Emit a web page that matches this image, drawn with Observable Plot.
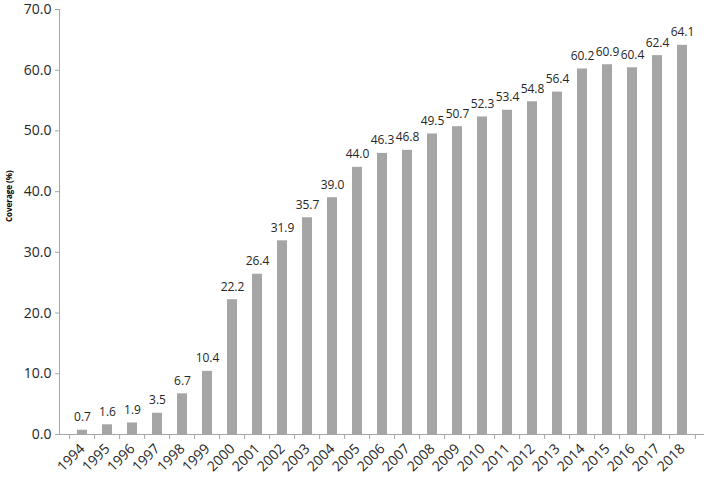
<!DOCTYPE html>
<html>
<head>
<meta charset="utf-8">
<script src="https://cdn.jsdelivr.net/npm/d3@7"></script>
<script src="https://cdn.jsdelivr.net/npm/@observablehq/plot@0.6"></script>
<style>
  html, body { margin: 0; padding: 0; background: #fff; }
  #chart { width: 709px; height: 478px; }
  #chart svg { overflow: visible; }
</style>
</head>
<body>
<div id="chart"></div>
<script>
const years = ["1994","1995","1996","1997","1998","1999","2000","2001","2002","2003","2004","2005","2006","2007","2008","2009","2010","2011","2012","2013","2014","2015","2016","2017","2018"];
const coverage = [0.7,1.6,1.9,3.5,6.7,10.4,22.2,26.4,31.9,35.7,39.0,44.0,46.3,46.8,49.5,50.7,52.3,53.4,54.8,56.4,60.2,60.9,60.4,62.4,64.1];
const yTicks = [0,10,20,30,40,50,60,70];
const yTitle = "Coverage (%)";

const data = years.map((y, i) => ({year: y, value: coverage[i]}));
const W = 709, H = 478, mL = 59, mR = 5;
const step = (W - mL - mR) / years.length;

const chart = Plot.plot({
  width: W,
  height: H,
  marginLeft: mL,
  marginRight: mR,
  marginTop: 9,
  marginBottom: 44,
  style: {fontFamily: "'Open Sans', sans-serif", fontSize: "12px", color: "#262626", background: "#fff", overflow: "visible"},
  x: {type: "band", domain: years, padding: 0.6, label: null},
  y: {domain: [0, 70], label: null},
  marks: [
    Plot.barY(data, {x: "year", y: "value", fill: "#a5a5a5"}),
    Plot.text(data, {x: "year", y: "value", text: d => d.value.toFixed(1), dy: -9, lineAnchor: "bottom", fill: "#262626", fontSize: 12}),
    Plot.ruleY([0], {stroke: "#a6a6a6"}),
    Plot.ruleX(years, {x: d => d, y1: 0, y2: 0, dx: -step / 2, insetBottom: -5, stroke: "#a6a6a6"}),
    Plot.ruleX([years[years.length - 1]], {x: d => d, y1: 0, y2: 0, dx: step / 2, insetBottom: -5, stroke: "#a6a6a6"}),
    Plot.frame({anchor: "left", stroke: "#a6a6a6"}),
    Plot.axisY({ticks: yTicks, tickFormat: d => d.toFixed(1), tickSize: 4, tickPadding: 4, stroke: "#a6a6a6", fontSize: 14, label: null, fill: "#262626"}),
    Plot.axisX({tickSize: 0, tickRotate: -45, tickPadding: 12, fontSize: 14, label: null, textAnchor: "end", fill: "#262626"}),
    Plot.text([yTitle], {frameAnchor: "left", dx: -50, rotate: -90, fontSize: 8, fontWeight: "bold", fill: "#000"})
  ]
});
document.getElementById("chart").appendChild(chart);
</script>
</body>
</html>
